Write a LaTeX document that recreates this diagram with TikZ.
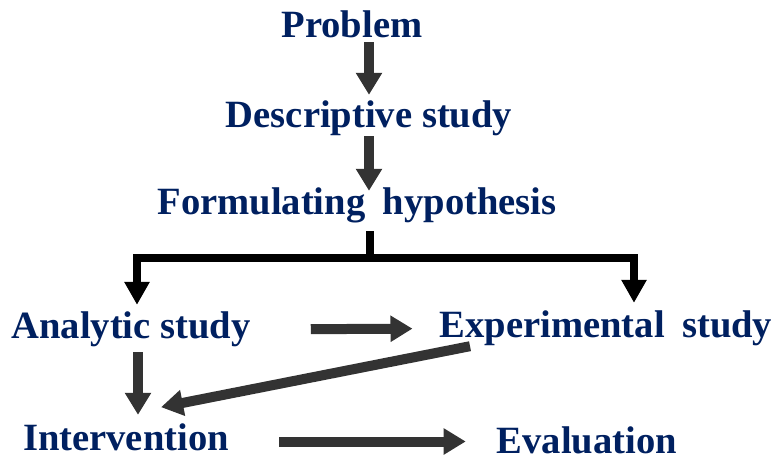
\documentclass[tikz,border=0pt]{standalone}
\usepackage{fontspec}
\setmainfont{Liberation Serif}
\usetikzlibrary{arrows.meta}
\definecolor{navy}{RGB}{0,32,96}
\definecolor{agray}{RGB}{51,51,51}
\begin{document}
\begin{tikzpicture}[x=1pt,y=-1pt,
  lbl/.style={inner sep=0pt,anchor=base,text height=26pt,text depth=9pt,
    text=navy,font=\fontsize{38.6}{40}\selectfont\bfseries},
  garrow/.style={draw=agray,line width=10pt,
    -{Triangle[width=25pt,length=22pt]}},
  bline/.style={draw=black,line width=7.5pt},
  barrow/.style={draw=black,line width=7.5pt,
    -{Triangle[width=24pt,length=23pt]}}]
\useasboundingbox (0,0) rectangle (777,459);
\node[lbl] (prob) at (352,37) {Problem};
\node[lbl] (desc) at (369,127) {Descriptive study};
\node[lbl] (form) at (357,214) {Formulating\hspace{0.45em}hypothesis};
\node[lbl] (ana) at (131,338) {Analytic study};
\node[lbl] (exp) at (606,337) {Experimental\hspace{0.45em}study};
\node[lbl] (int) at (126,450) {Intervention};
\node[lbl,text depth=0pt] (eval) at (587,453) {Evaluation};
\coordinate (split) at (370,258);
\draw[garrow,shorten <=-4pt,shorten >=6pt] (prob.south -| desc.north) -- (desc.north);
\draw[garrow,shorten >=-3pt] (desc.south) -- (desc.south |- form.north);
\draw[bline,shorten <=8pt] (form.south -| split) -- (split);
\draw[barrow,shorten >=7pt] (split) -| ([xshift=6pt]ana.north);
\draw[barrow,shorten >=8pt] (split) -| ([xshift=28pt]exp.north);
\draw[garrow,shorten <=60pt,shorten >=27pt] (ana.east) -- (exp.west);
\draw[garrow,shorten >=-2pt] ([xshift=-136pt]exp.south) -- ([xshift=37pt,yshift=17pt]int.north);
\draw[garrow,shorten <=5pt,shorten >=9pt] ([xshift=7pt]ana.south) -- ([xshift=7pt]ana.south |- int.north);
\draw[garrow,shorten <=50pt,shorten >=31pt] (int.east) -- (int.east -| eval.west);
\end{tikzpicture}
\end{document}
